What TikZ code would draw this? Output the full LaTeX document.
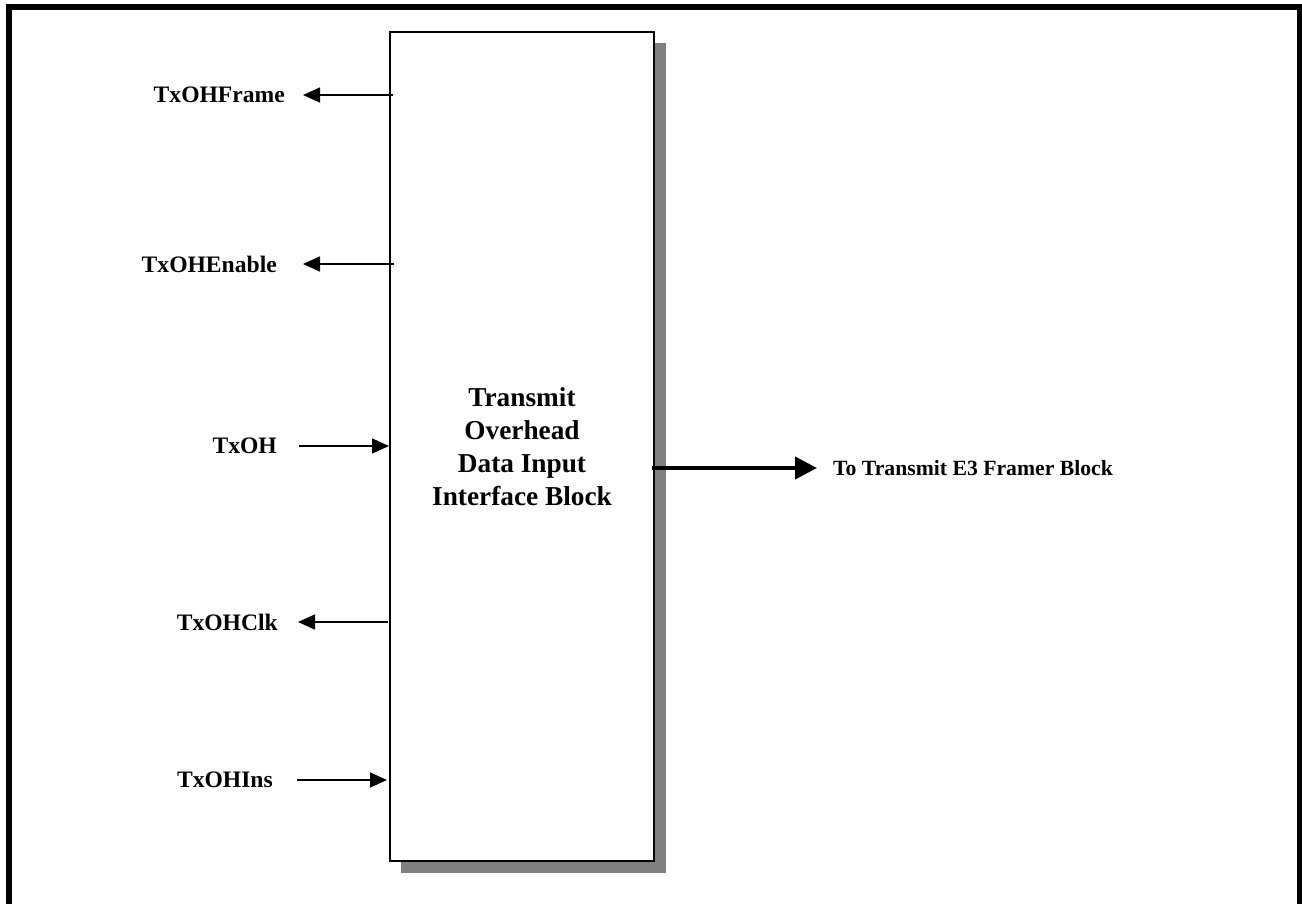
\documentclass[tikz,border=0pt]{standalone}
\usepackage{fontspec}
\setmainfont{Liberation Serif}
\usetikzlibrary{arrows.meta}
\tikzset{
  lbl/.style={anchor=east, inner sep=0pt, font=\fontsize{23.6}{28}\selectfont\bfseries},
  sig/.style={line width=1.4pt, -{Triangle[length=17pt,width=15pt]}},
  bigsig/.style={line width=4pt, -{Triangle[length=22pt,width=22pt]}},
  blockbox/.style={draw=black, line width=2pt, fill=white, minimum width=264pt, minimum height=829pt, inner sep=0pt},
  shadowbox/.style={fill=black!50, draw=none, minimum width=265pt, minimum height=830pt, inner sep=0pt}
}
\begin{document}
\begin{tikzpicture}[x=1pt,y=-1pt]
\useasboundingbox (0,0) rectangle (1302,903);
\fill[white] (0,0) rectangle (1302,903);
% outer frame (open at bottom)
\draw[line width=6pt] (9,920) -- (9,7) -- (1300,7) -- (1300,920);
% block with shadow
\node[shadowbox] (shadow) at (533.5,458) {};
\node[blockbox] (blk) at (522,446.5) {};
\node[align=center, inner sep=0pt, font=\fontsize{27.3}{33}\selectfont\bfseries] (title) at (522,447) {Transmit\\Overhead\\Data Input\\Interface Block};
% labels
\node[lbl] (lframe) at (285,95) {TxOHFrame};
\node[lbl] (lenable) at (277,264) {TxOHEnable};
\node[lbl] (ltxoh) at (277,446) {TxOH};
\node[lbl] (lclk) at (278,622) {TxOHClk};
\node[lbl] (lins) at (273,780) {TxOHIns};
\node[anchor=west, inner sep=0pt, font=\fontsize{21.7}{26}\selectfont\bfseries] (lout) at (833,468) {To Transmit E3 Framer Block};
% connector endpoints
\coordinate (fA) at (393,95);  \coordinate (fB) at (303,95);
\coordinate (eA) at (394,264); \coordinate (eB) at (303,264);
\coordinate (hA) at (299,446); \coordinate (hB) at (389,446);
\coordinate (cA) at (388,622); \coordinate (cB) at (298,622);
\coordinate (iA) at (297,780); \coordinate (iB) at (387,780);
\coordinate (oA) at (652,468); \coordinate (oB) at (817,468);
\draw[sig] (fA) -- (fB);
\draw[sig] (eA) -- (eB);
\draw[sig] (hA) -- (hB);
\draw[sig] (cA) -- (cB);
\draw[sig] (iA) -- (iB);
\draw[bigsig] (oA) -- (oB);
\end{tikzpicture}
\end{document}
